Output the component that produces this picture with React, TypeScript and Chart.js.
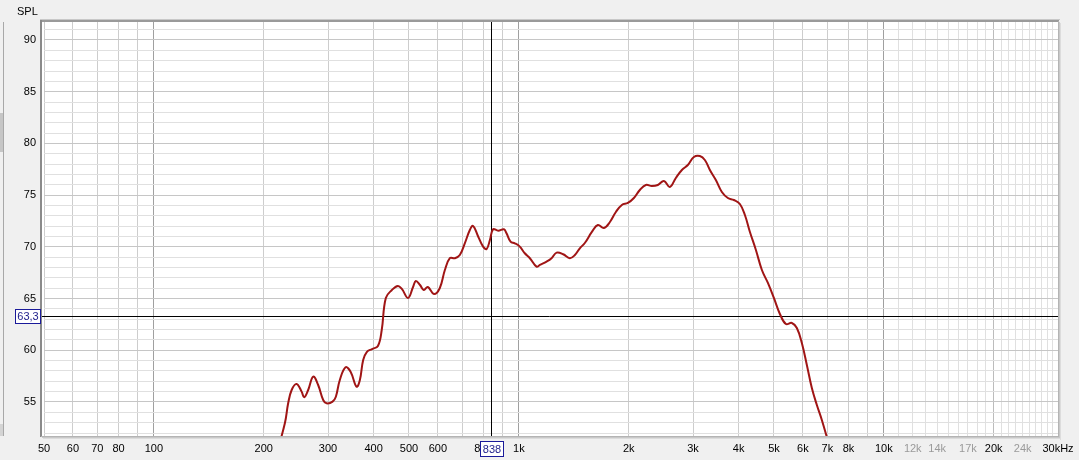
import React, { useEffect, useRef } from "react";
import { Chart, registerables } from "chart.js";

Chart.register(...registerables);

// Frequency response (Hz) and SPL (dB)
const freqHz = [
  215, 228.5, 233.3, 238.5, 246, 254, 258, 264.7, 273.3, 281.9, 291, 297.3, 308.7, 315.2, 323.2,
  335.1, 345.9, 359.2, 366.8, 374.5, 383, 396, 411, 421, 432, 449, 466, 478, 497, 513, 522, 536,
  549, 563, 585, 607, 627, 647, 668, 689, 711, 734, 749, 774, 798, 816, 833, 850, 878, 910, 925,
  949, 975, 1006, 1038, 1072, 1118, 1142, 1191, 1229, 1269, 1323, 1379, 1424, 1469, 1516, 1585,
  1646, 1710, 1776, 1844, 1915, 1989, 2066, 2145, 2228, 2314, 2403, 2497, 2592, 2692, 2797, 2904,
  3017, 3133, 3233, 3337, 3465, 3599, 3738, 3882, 4032, 4162, 4296, 4461, 4633, 4812, 4997, 5190,
  5390, 5597, 5776, 5961, 6152, 6349, 6553, 6762, 7080,
];
const splDb = [
  49.5, 52.94, 54.87, 56.16, 56.74, 56.0, 55.45, 56.16, 57.45, 56.64, 55.19, 54.87, 55.03, 55.51, 57.13,
  58.36, 57.93, 56.48, 57.13, 59.06, 59.83, 60.12, 60.41, 61.96, 65.06, 65.83, 66.22, 65.93, 65.06, 66.12, 66.7, 66.31,
  65.83, 66.12, 65.44, 66.0, 67.76, 68.9, 68.9, 69.21, 70.34, 71.63, 72.02, 70.98, 70.02, 69.79, 70.66, 71.7, 71.56, 71.7, 71.31,
  70.5, 70.34, 70.02, 69.38, 68.9, 68.08, 68.25, 68.57, 68.9, 69.44, 69.28, 68.9, 69.21, 69.86, 70.37, 71.44,
  72.11, 71.82, 72.4, 73.37, 74.05, 74.24, 74.72, 75.5, 75.98, 75.88, 75.98, 76.37, 75.79, 76.66, 77.43, 77.91,
  78.69, 78.78, 78.4, 77.43, 76.46, 75.3, 74.72, 74.53, 74.14, 73.08, 71.44, 69.7, 67.76, 66.51, 65.06, 63.51,
  62.54, 62.64, 62.15, 60.7, 58.58, 56.35, 54.71, 53.26, 50.84,
];

// Axis grid values and labels
const xGridHz = [
  50, 60, 70, 80, 90, 100, 200, 300, 400, 500, 600, 700, 800, 900, 1000, 2000, 3000, 4000, 5000, 6000,
  7000, 8000, 9000, 10000, 11000, 12000, 13000, 14000, 15000, 16000, 17000, 18000, 19000, 20000, 21000,
  22000, 23000, 24000, 25000, 26000, 27000, 28000, 29000, 30000,
];
const xLabelHz = [50, 60, 70, 80, 100, 200, 300, 400, 500, 600, 800, 1000, 2000, 3000, 4000, 5000, 6000, 7000, 8000, 10000, 12000, 14000, 17000, 20000, 24000, 30000];
const xLabelText = ["50", "60", "70", "80", "100", "200", "300", "400", "500", "600", "800", "1k", "2k", "3k", "4k", "5k", "6k", "7k", "8k", "10k", "12k", "14k", "17k", "20k", "24k", "30kHz"];
const xGrayLabelHz = [12000, 14000, 17000, 24000];
const xMajorHz = [100, 1000, 10000];
const yGridDb = [52, 53, 54, 55, 56, 57, 58, 59, 60, 61, 62, 63, 64, 65, 66, 67, 68, 69, 70, 71, 72, 73, 74, 75, 76, 77, 78, 79, 80, 81, 82, 83, 84, 85, 86, 87, 88, 89, 90, 91];
const yMin = 51.71;
const yMax = 91.74;
const xMin = 50;
const xMax = 30000;
const cursorHz = 838;
const cursorDb = 63.3;
const cursorHzText = "838";
const cursorDbText = "63,3";
const yTitle = "SPL";

const FONT = "'Liberation Sans', Arial, sans-serif";

const decorPlugin = {
  id: "decor",
  beforeDraw(chart: any) {
    const { ctx, chartArea: a, width, height } = chart;
    ctx.save();
    ctx.fillStyle = "#f0f0f0";
    ctx.fillRect(0, 0, width, height);
    ctx.fillStyle = "#ffffff";
    ctx.fillRect(a.left - 2, a.top, a.right - a.left + 2, a.bottom - a.top);
    // left side panel remnants
    ctx.fillStyle = "#a8a8a8";
    ctx.fillRect(3, 22, 1, 414);
    ctx.fillStyle = "#c6c6c6";
    ctx.fillRect(0, 113, 3, 39);
    ctx.fillStyle = "#d4d4d4";
    ctx.fillRect(0, 424, 3, 12);
    ctx.restore();
  },
  beforeDatasetsDraw(chart: any) {
    const { ctx, chartArea: a, scales } = chart;
    const px = Math.round(scales.x.getPixelForValue(cursorHz)) + 0.5;
    const py = Math.round(scales.y.getPixelForValue(cursorDb)) + 0.5;
    ctx.save();
    ctx.strokeStyle = "#000000";
    ctx.lineWidth = 1;
    ctx.beginPath();
    ctx.moveTo(a.left - 3, py);
    ctx.lineTo(a.right, py);
    ctx.moveTo(px, a.top);
    ctx.lineTo(px, a.bottom);
    ctx.stroke();
    ctx.restore();
  },
  afterDraw(chart: any) {
    const { ctx, chartArea: a, scales } = chart;
    const L = a.left - 2;
    ctx.save();
    // sunken frame
    ctx.fillStyle = "#c8c8c8";
    ctx.fillRect(L - 2, a.top - 3, a.right - L + 4, 1);
    ctx.fillStyle = "#9a9a9a";
    ctx.fillRect(L - 2, a.top - 2, a.right - L + 3, 2);
    ctx.fillStyle = "#8a8a8a";
    ctx.fillRect(L - 2, a.top - 2, 2, a.bottom - a.top + 3);
    ctx.fillStyle = "#b4b4b4";
    ctx.fillRect(a.right, a.top - 1, 1, a.bottom - a.top + 2);
    ctx.fillStyle = "#c8c8c8";
    ctx.fillRect(a.right + 1, a.top, 1, a.bottom - a.top + 3);
    ctx.fillStyle = "#dcdcdc";
    ctx.fillRect(a.right + 2, a.top + 1, 1, a.bottom - a.top + 3);
    ctx.fillStyle = "#b4b4b4";
    ctx.fillRect(L - 1, a.bottom, a.right - L + 2, 1);
    ctx.fillStyle = "#c8c8c8";
    ctx.fillRect(L, a.bottom + 1, a.right - L + 2, 1);
    ctx.fillStyle = "#dcdcdc";
    ctx.fillRect(L + 1, a.bottom + 2, a.right - L + 2, 1);

    // SPL title
    ctx.fillStyle = "#000000";
    ctx.font = `11px ${FONT}`;
    ctx.textBaseline = "middle";
    ctx.textAlign = "left";
    ctx.fillText(yTitle, 17, 12);

    // cursor value boxes
    const px = Math.round(scales.x.getPixelForValue(cursorHz));
    const py = Math.round(scales.y.getPixelForValue(cursorDb));
    const box = (cx: number, cy: number, w: number, h: number, t: string) => {
      const x0 = Math.round(cx - w / 2) + 0.5;
      const y0 = Math.round(cy - h / 2) + 0.5;
      ctx.fillStyle = "#ffffff";
      ctx.fillRect(x0, y0, w, h);
      ctx.strokeStyle = "#1a1a9a";
      ctx.lineWidth = 1;
      ctx.strokeRect(x0, y0, w, h);
      ctx.fillStyle = "#1c1c8a";
      ctx.textAlign = "center";
      ctx.textBaseline = "middle";
      ctx.fillText(t, x0 + w / 2, y0 + h / 2 + 0.5);
    };
    box(27.5, py, 25, 14, cursorDbText);
    box(px, 448, 23, 15, cursorHzText);
    ctx.restore();
  },
};

export default function App() {
  const ref = useRef<HTMLCanvasElement>(null);

  useEffect(() => {
    if (!ref.current) return;
    const points = freqHz.map((f, i) => ({ x: f, y: splDb[i] }));
    const chart = new Chart(ref.current, {
      type: "line",
      data: {
        datasets: [
          {
            data: points,
            borderColor: "#a01515",
            borderWidth: 2,
            pointRadius: 0,
            tension: 0.4,
            fill: false,
          },
        ],
      },
      options: {
        animation: false,
        responsive: false,
        events: [],
        layout: { padding: { top: 22, right: 21, left: 0, bottom: 0 } },
        plugins: { legend: { display: false }, tooltip: { enabled: false } },
        scales: {
          x: {
            type: "logarithmic",
            min: xMin,
            max: xMax,
            afterBuildTicks: (s: any) => {
              s.ticks = xGridHz.map((v) => ({ value: v }));
            },
            afterFit: (s: any) => {
              s.height = 24;
              s.paddingLeft = 0;
              s.paddingRight = 0;
            },
            border: { display: false },
            grid: {
              drawTicks: false,
              lineWidth: 1,
              color: (c: any) => {
                const v = c.tick ? c.tick.value : 0;
                if (xMajorHz.includes(v)) return "#a0a0a0";
                if (v === 20000) return "#bcbcbc";
                if (v > 10000) return "#e0e0e0";
                return "#cdcdcd";
              },
            },
            ticks: {
              autoSkip: false,
              maxRotation: 0,
              minRotation: 0,
              padding: 6,
              font: { family: FONT, size: 11 },
              color: (c: any) => (c.tick && xGrayLabelHz.includes(c.tick.value) ? "#9a9a9a" : "#000000"),
              callback: (v: any) => {
                const i = xLabelHz.indexOf(Number(v));
                return i >= 0 ? xLabelText[i] : "";
              },
            },
          },
          y: {
            type: "linear",
            min: yMin,
            max: yMax,
            afterBuildTicks: (s: any) => {
              s.ticks = yGridDb.map((v) => ({ value: v }));
            },
            afterFit: (s: any) => {
              s.width = 44;
            },
            border: { display: false },
            grid: {
              drawTicks: false,
              lineWidth: 1,
              color: (c: any) => (c.tick && c.tick.value % 5 === 0 ? "#c6c6c6" : "#e0e0e0"),
            },
            ticks: {
              autoSkip: false,
              padding: 8,
              font: { family: FONT, size: 11 },
              color: "#000000",
              callback: (v: any) => (Number(v) % 5 === 0 ? String(v) : ""),
            },
          },
        },
      },
      plugins: [decorPlugin],
    });
    return () => chart.destroy();
  }, []);

  return (
    <div style={{ position: "fixed", left: 0, top: 0, width: 1079, height: 460, background: "#f0f0f0" }}>
      <canvas ref={ref} width={1079} height={460} style={{ display: "block" }} />
    </div>
  );
}
